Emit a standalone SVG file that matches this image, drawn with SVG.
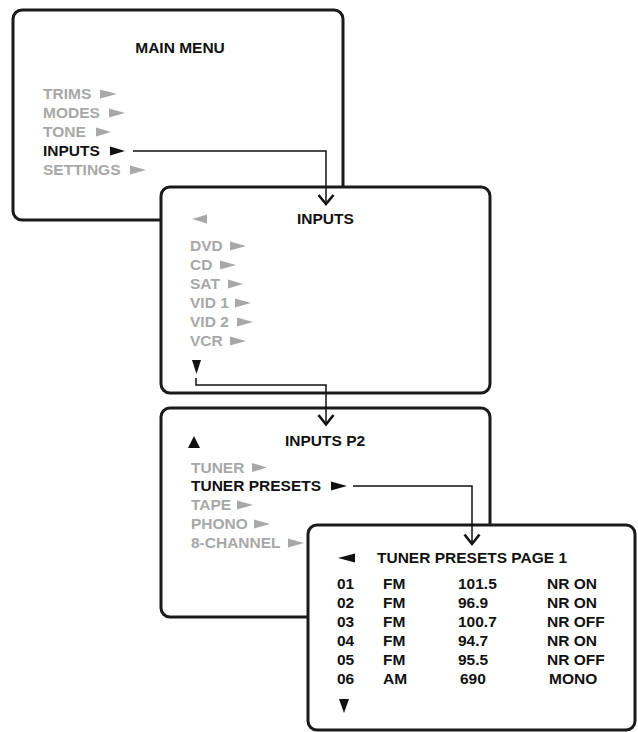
<svg xmlns="http://www.w3.org/2000/svg" width="638" height="732" viewBox="0 0 638 732">
<style>
.box{fill:#fff;stroke:#1a1a1a;stroke-width:3}
text{font-family:"Liberation Sans",Arial,sans-serif;font-weight:bold;font-size:15.5px}
.g{fill:#a8a8a8}
.k{fill:#111}
.tg{fill:#a8a8a8}
.tk{fill:#111}
.ln{fill:none;stroke:#111;stroke-width:1.5}
.ah{fill:none;stroke:#111;stroke-width:2.6;stroke-linejoin:miter}
</style>
<g id="main-menu">
<rect class="box" x="13" y="10" width="330" height="210" rx="9"/>
<text class="k" x="180" y="53" text-anchor="middle">MAIN MENU</text>
<text class="g" x="43" y="99">TRIMS</text><polygon class="tg" points="100,89.5 117,94 100,98.5"/>
<text class="g" x="43" y="118">MODES</text><polygon class="tg" points="109,108.5 125,113 109,117.5"/>
<text class="g" x="43" y="137">TONE</text><polygon class="tg" points="96,127.5 111,132 96,136.5"/>
<text class="k" x="43" y="156">INPUTS</text><polygon class="tk" points="110,146.5 125,151 110,155.5"/>
<text class="g" x="43" y="175">SETTINGS</text><polygon class="tg" points="130,165.5 146,170 130,174.5"/>
</g>
<g id="inputs">
<rect class="box" x="161" y="187" width="329" height="206" rx="9"/>
<polygon class="tg" points="207,214.5 192,219 207,223.5"/>
<text class="k" x="297" y="224">INPUTS</text>
<text class="g" x="190" y="251">DVD</text><polygon class="tg" points="230,241.5 246,246 230,250.5"/>
<text class="g" x="190" y="270">CD</text><polygon class="tg" points="220,260.5 236,265 220,269.5"/>
<text class="g" x="190" y="289">SAT</text><polygon class="tg" points="228,279.5 243,284 228,288.5"/>
<text class="g" x="190" y="308">VID 1</text><polygon class="tg" points="235,298.5 251,303 235,307.5"/>
<text class="g" x="190" y="327">VID 2</text><polygon class="tg" points="237,317.5 253,322 237,326.5"/>
<text class="g" x="190" y="346">VCR</text><polygon class="tg" points="230,336.5 246,341 230,345.5"/>
<polygon class="tk" points="192,360 201,360 196.5,374"/>
</g>
<g id="inputs-p2">
<rect class="box" x="161" y="408" width="329" height="209" rx="9"/>
<polygon class="tk" points="188,448 200,448 194,436"/>
<text class="k" x="285" y="446">INPUTS P2</text>
<text class="g" x="191" y="472.5">TUNER</text><polygon class="tg" points="252,463 267,467.5 252,472"/>
<text class="k" x="191" y="491">TUNER PRESETS</text><polygon class="tk" points="331,481.5 347,486 331,490.5"/>
<text class="g" x="191" y="510">TAPE</text><polygon class="tg" points="237,500.5 253,505 237,509.5"/>
<text class="g" x="191" y="529">PHONO</text><polygon class="tg" points="254,519.5 270,524 254,528.5"/>
<text class="g" x="191" y="548">8-CHANNEL</text><polygon class="tg" points="288,538.5 304,543 288,547.5"/>
</g>
<g id="tuner-presets-page-1">
<rect class="box" x="308" y="525" width="327" height="205" rx="9"/>
<polygon class="tk" points="355,553.5 338,558 355,562.5"/>
<text class="k" x="377" y="563">TUNER PRESETS PAGE 1</text>
<g class="k">
<text x="337" y="589">01</text><text x="383" y="589">FM</text><text x="458" y="589">101.5</text><text x="547" y="589">NR ON</text>
<text x="337" y="608">02</text><text x="383" y="608">FM</text><text x="458" y="608">96.9</text><text x="547" y="608">NR ON</text>
<text x="337" y="627">03</text><text x="383" y="627">FM</text><text x="458" y="627">100.7</text><text x="547" y="627">NR OFF</text>
<text x="337" y="646">04</text><text x="383" y="646">FM</text><text x="458" y="646">94.7</text><text x="547" y="646">NR ON</text>
<text x="337" y="665">05</text><text x="383" y="665">FM</text><text x="458" y="665">95.5</text><text x="547" y="665">NR OFF</text>
<text x="337" y="684">06</text><text x="383" y="684">AM</text><text x="460" y="684">690</text><text x="549" y="684">MONO</text>
</g>
<polygon class="tk" points="339,699 349,699 344,713"/>
</g>
<g id="connectors">
<polyline class="ln" points="133,151 326,151 326,203"/>
<polyline class="ah" points="318.5,195 326,204 333.5,195"/>
<polyline class="ln" points="196,378 196,385 326,385 326,424"/>
<polyline class="ah" points="318.5,415 326,424.5 333.5,415"/>
<polyline class="ln" points="353,486 472,486 472,544"/>
<polyline class="ah" points="464.5,534.5 472,544 479.5,534.5"/>
</g>
</svg>
